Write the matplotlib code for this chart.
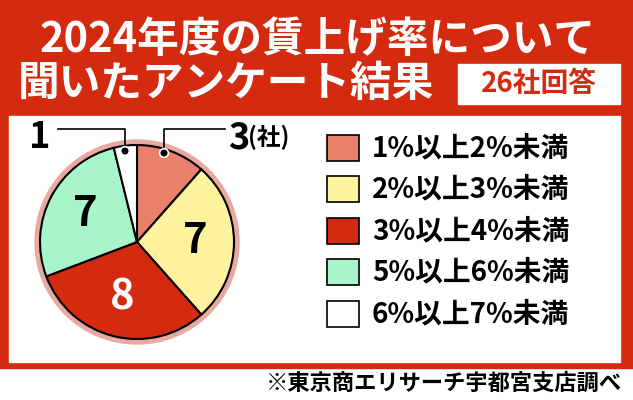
import matplotlib
matplotlib.use("Agg")
import matplotlib.pyplot as plt
from matplotlib.patches import Rectangle, Circle

plt.rcParams['font.family'] = ['Noto Sans CJK JP', 'DejaVu Sans']

categories = ["1%以上2%未満", "2%以上3%未満", "3%以上4%未満", "5%以上6%未満", "6%以上7%未満"]
values = [3, 7, 8, 7, 1]
colors = ["#E8806A", "#FFF3A0", "#D42A10", "#A8F5CC", "#FFFFFF"]
title1 = "2024年度の賃上げ率について"
title2 = "聞いたアンケート結果"
badge = "26社回答"
source = "※東京商エリサーチ宇都宮支店調べ"

RED = "#D42A10"
fig = plt.figure(figsize=(6.33, 4.0), dpi=100)
ax = fig.add_axes([0, 0, 1, 1])
H = 400
def Y(y): return H - y

ax.add_patch(Rectangle((0, Y(368)), 633, 368, color=RED, zorder=0))
ax.add_patch(Rectangle((9, Y(362)), 611, 362 - 116, color="white", zorder=1))

ax.text(318, Y(40), title1, color="white", fontsize=30, fontweight="bold", ha="center", va="center", zorder=3)
ax.text(18, Y(84), title2, color="white", fontsize=30, fontweight="bold", ha="left", va="center", zorder=3)
ax.add_patch(Rectangle((458, Y(104)), 162, 40, color="white", zorder=2))
ax.text(539, Y(84), badge, color=RED, fontsize=20, fontweight="bold", ha="center", va="center", zorder=3)

cx, cy, r = 137, Y(242), 97
ax.add_patch(Circle((cx, cy), r + 5, color="#E8AAA0", zorder=2))
wedges, _ = ax.pie(values, colors=colors, startangle=90, counterclock=False,
                   center=(cx, cy), radius=r, frame=True,
                   wedgeprops=dict(edgecolor="black", linewidth=1.5, zorder=3))
for w in wedges:
    w.set_zorder(3)
ax.set_xlim(0, 633); ax.set_ylim(0, 400); ax.axis('off')
ax.set_aspect('auto')

ax.text(195, Y(241), str(values[1]), fontsize=30, fontweight="bold", color="black", ha="center", va="center", zorder=5)
ax.text(122, Y(298), str(values[2]), fontsize=30, fontweight="bold", color="white", ha="center", va="center", zorder=5)
ax.text(85, Y(214), str(values[3]), fontsize=30, fontweight="bold", color="black", ha="center", va="center", zorder=5)

# leaders
ax.plot([58, 125, 125], [Y(129), Y(129), Y(150)], color="black", lw=1.2, zorder=6)
ax.plot([225, 164, 164], [Y(129), Y(129), Y(152)], color="black", lw=1.2, zorder=6)
for (px, py) in [(125, 151), (164, 153)]:
    ax.add_patch(Circle((px, Y(py)), 4.5, color="white", zorder=6))
    ax.add_patch(Circle((px, Y(py)), 2.8, color="black", zorder=7))
ax.text(40, Y(138), str(values[4]), fontsize=26, fontweight="bold", ha="center", va="center", zorder=6)
ax.text(228, Y(138), str(values[0]), fontsize=26, fontweight="bold", ha="left", va="center", zorder=6)
ax.text(248, Y(137), "(社)", fontsize=17, fontweight="bold", ha="left", va="center", zorder=6)

ys = [148, 189, 231, 272, 314]
for yc, c, lab in zip(ys, colors, categories):
    ax.add_patch(Rectangle((327, Y(yc + 13)), 32, 26, facecolor=c, edgecolor="black", lw=1.2, zorder=4))
    ax.text(372, Y(yc), lab, fontsize=20, fontweight="bold", ha="left", va="center", zorder=4)

ax.text(622, Y(383), source, fontsize=16, fontweight="bold", ha="right", va="center", zorder=4)

fig.savefig("out.png", dpi=100)
